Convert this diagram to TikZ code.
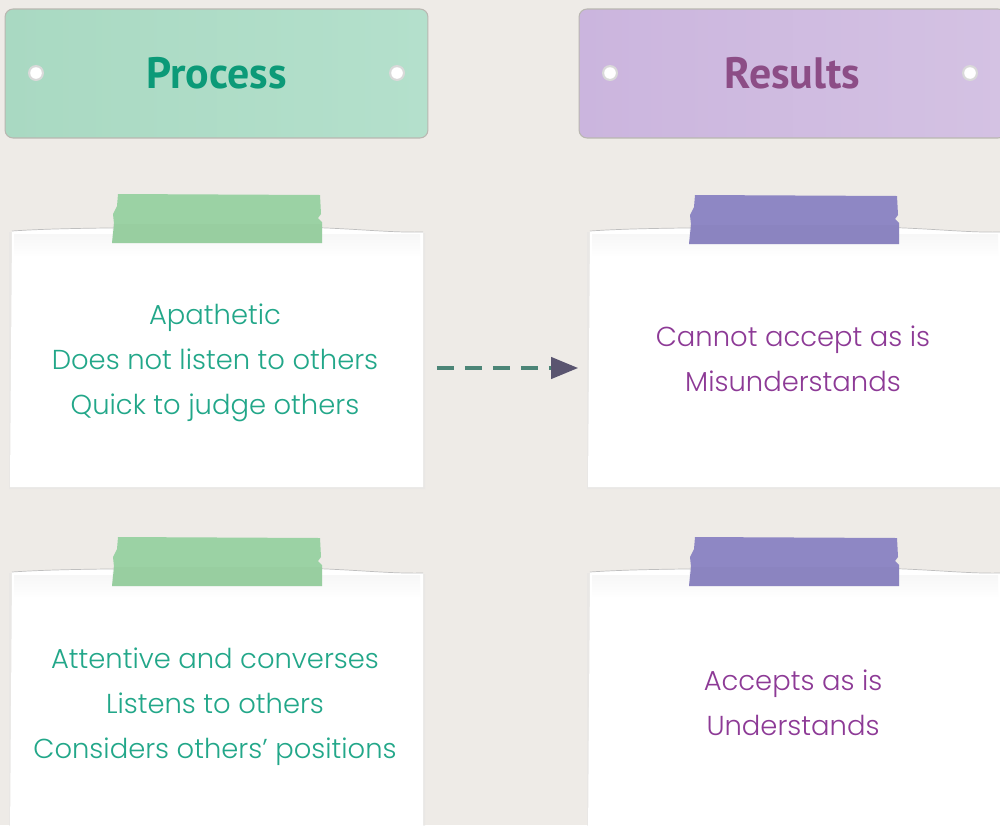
\documentclass[tikz,border=0pt]{standalone}
\usepackage{fontspec}
\setmainfont{Poppins Light}
\newfontfamily\headfont{PT Sans}
\usetikzlibrary{arrows.meta}

\definecolor{bg}{HTML}{EEEBE7}
\definecolor{procfill}{HTML}{B4E0CC}
\definecolor{procfillL}{HTML}{A9D9C2}
\definecolor{procfillM}{HTML}{C3E8D8}
\definecolor{procink}{HTML}{0C9A78}
\definecolor{resfill}{HTML}{D4C2E3}
\definecolor{resfillL}{HTML}{CBB5DE}
\definecolor{resfillM}{HTML}{DCCBEA}
\definecolor{resink}{HTML}{8C4D86}
\definecolor{greentext}{HTML}{22A789}
\definecolor{purpletext}{HTML}{8D3A96}
\definecolor{greentape}{HTML}{9BD2A4}
\definecolor{purpletape}{HTML}{8E87C4}
\definecolor{rim}{HTML}{B9B7B1}
\definecolor{arrowline}{HTML}{4C8577}
\definecolor{arrowtip}{HTML}{5A5570}

% paper sheet with a slightly wavy top edge; #1 = left x, #2 = top y, #3 = bottom y
\newcommand\papersheet[3]{%
  \fill[black!10,opacity=0.5] ({#1-1},{#2+4}) -- ({#1+415},{#2+5}) -- ({#1+415},{#3+2}) -- ({#1-1},{#3+2}) -- cycle;
  \fill[white] ({#1+2},{#2+3}) .. controls ({#1+60},{#2-1}) and ({#1+150},{#2}) .. ({#1+250},{#2-1})
    .. controls ({#1+330},{#2-2}) and ({#1+370},{#2+5}) .. ({#1+413},{#2+4})
    -- ({#1+413},{#3}) -- ({#1},{#3}) -- cycle;
  \draw[black!25,line width=0.4pt] ({#1+2},{#2+3}) .. controls ({#1+60},{#2-1}) and ({#1+150},{#2}) .. ({#1+250},{#2-1})
    .. controls ({#1+330},{#2-2}) and ({#1+370},{#2+5}) .. ({#1+413},{#2+4});
  \shade[top color=black!6,bottom color=white,opacity=0.5] ({#1+4},{#2+6}) rectangle ({#1+410},{#2+28});
}
% strip of tape; #1 = left x, #2 = top y, #3 = colour
\newcommand\tapestrip[3]{%
  \fill[#3] ({#1+6},{#2}) -- ({#1+208},{#2+1}) -- ({#1+209},{#2+20}) -- ({#1+206},{#2+24})
    -- ({#1+210},{#2+28}) -- ({#1+210},{#2+49}) -- ({#1},{#2+49}) -- ({#1+2},{#2+30})
    -- ({#1+1},{#2+20}) -- ({#1+5},{#2+12}) -- cycle;
  \fill[#3!85!black,opacity=0.12] ({#1+1},{#2+30}) -- ({#1+210},{#2+30}) -- ({#1+210},{#2+49}) -- ({#1},{#2+49}) -- cycle;
}
% hole in a header plate
\newcommand\plathole[1]{%
  \fill[black!15] (#1) circle (8);
  \fill[white] (#1) circle (5.8);
}

\begin{document}
\begin{tikzpicture}[x=0.02cm,y=-0.02cm,
  header/.style={rectangle,rounded corners=0.16cm,draw=rim,line width=0.6pt,
    minimum height=2.58cm,inner sep=0pt,
    font=\headfont\bfseries\fontsize{25}{28}\selectfont},
  note/.style={rectangle,inner sep=0pt,minimum width=8.26cm,align=center,
    font=\fontsize{15.6}{25.6}\selectfont},
  flow/.style={line width=2.3pt,draw=arrowline,dash pattern=on 0.34cm off 0.22cm,
    -{Triangle[length=0.54cm,width=0.42cm,color=arrowtip]}}
]
\useasboundingbox (0,0) rectangle (1000,825);
\clip (0,0) rectangle (1000,825);
\fill[bg] (0,0) rectangle (1000,825);

% column headers
\node[header,minimum width=8.46cm,left color=procfillL,middle color=procfillM,right color=procfill,text=procink]
  (hproc) at (216.5,73.5) {\raisebox{-0.05cm}{Process}};
\node[header,minimum width=8.54cm,left color=resfillL,middle color=resfillM,right color=resfill,text=resink]
  (hres) at (792.5,73.5) {\raisebox{-0.05cm}{Results}};
\plathole{36,73}
\plathole{397,73}
\plathole{610,73}
\plathole{970,73}

% paper sheets and tape
\papersheet{10}{228}{487}
\papersheet{588}{228}{487}
\papersheet{10}{569}{840}
\papersheet{588}{569}{840}
\tapestrip{112}{194}{greentape}
\tapestrip{689}{195}{purpletape}
\tapestrip{112}{537}{greentape}
\tapestrip{689}{537}{purpletape}

% sheet texts
\node[note,minimum height=5.18cm,text=greentext] (p1) at (215,363)
  {Apathetic\\Does not listen to others\\Quick to judge others};
\node[note,minimum height=5.18cm,text=purpletext] (r1) at (793,358.5)
  {Cannot accept as is\\Misunderstands};
\node[note,minimum height=5.18cm,text=greentext] (p2) at (215,707)
  {Attentive and converses\\Listens to others\\Considers others' positions};
\node[note,minimum height=5.18cm,text=purpletext] (r2) at (793,702.5)
  {Accepts as is\\Understands};

% dashed connector between the upper sheets, kept horizontal
\draw[flow,shorten <=0.3cm,shorten >=0.16cm]
  ([yshift=-0.1cm]p1.east) -- ([yshift=-0.1cm]p1.east -| r1.west);
\end{tikzpicture}
\end{document}
